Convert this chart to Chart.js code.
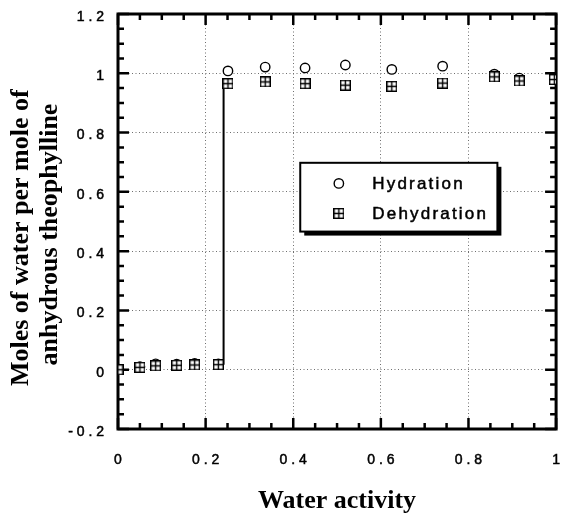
<!doctype html>
<html>
<head>
<meta charset="utf-8">
<title>Theophylline water sorption</title>
<script src="https://cdn.jsdelivr.net/npm/chart.js@4.4.1/dist/chart.umd.min.js"></script>
<style>
  html, body { margin: 0; padding: 0; background: #fff; }
  canvas { display: block; }
</style>
</head>
<body>
<canvas id="js-chart-sorption" width="563" height="522"></canvas>
<script>
// Water activity, shared by both series
const waterActivity = [0, 0.05, 0.086, 0.134, 0.175, 0.229, 0.251, 0.336, 0.427, 0.519, 0.625, 0.741, 0.859, 0.916, 0.996];

// Moles of water per mole of anhydrous theophylline
const hydration   = [0.003, 0.01, 0.02, 0.019, 0.021, 0.02, 1.008, 1.021, 1.018, 1.028, 1.013, 1.024, 0.997, 0.984, 0.98];
const dehydration = [0, 0.008, 0.013, 0.015, 0.016, 0.017, 0.965, 0.971, 0.965, 0.96, 0.956, 0.967, 0.988, 0.974, 0.979];

// near vertical step between the two plateaus
const stepX = [0.24, 0.241];
const stepY = [0.02, 0.955];

// Tick labels
const xTicks = [0, 0.2, 0.4, 0.6, 0.8, 1];
const yTicks = [-0.2, 0, 0.2, 0.4, 0.6, 0.8, 1, 1.2];

const SANS = '"Liberation Sans", Arial, Helvetica, sans-serif';
const SERIF = '"Liberation Serif", "Times New Roman", Times, serif';

const toPoints = (xs, ys) => xs.map((x, i) => ({ x: x, y: ys[i] }));
const spaced = v => String(v).split('').join(' ');

// square with a cross inside, used as point style for dehydration
function crossSquare(size) {
  const c = document.createElement('canvas');
  c.width = c.height = size;
  const g = c.getContext('2d');
  const e = size - 0.5, m = size / 2;
  g.fillStyle = '#fff';
  g.fillRect(0, 0, size, size);
  g.strokeStyle = '#000';
  g.lineWidth = 1.4;
  g.strokeRect(0.7, 0.7, size - 1.4, size - 1.4);
  g.beginPath();
  g.moveTo(m, 0.5); g.lineTo(m, e);
  g.moveTo(0.5, m); g.lineTo(e, m);
  g.stroke();
  return c;
}
const squareStyle = crossSquare(11);

/*
 * Frame with inward ticks on all four sides
 */
const frameTicks = {
  id: 'frameTicks',
  beforeDatasetsDraw(chart, args, opts) {
    const { ctx, chartArea: a, scales: { x, y } } = chart;
    ctx.save();
    ctx.strokeStyle = '#000';
    ctx.lineWidth = opts.tickWidth;
    ctx.beginPath();
    const nx = Math.round((x.max - x.min) / opts.step);
    for (let i = 0; i <= nx; i++) {
      const px = x.getPixelForValue(x.min + i * opts.step);
      const len = i % 4 === 0 ? opts.major : opts.minor;
      ctx.moveTo(px, a.bottom); ctx.lineTo(px, a.bottom - len);
      ctx.moveTo(px, a.top); ctx.lineTo(px, a.top + len);
    }
    const ny = Math.round((y.max - y.min) / opts.step);
    for (let i = 0; i <= ny; i++) {
      const py = y.getPixelForValue(y.min + i * opts.step);
      const len = i % 4 === 0 ? opts.major : opts.minor;
      ctx.moveTo(a.left, py); ctx.lineTo(a.left + len, py);
      ctx.moveTo(a.right, py); ctx.lineTo(a.right - len, py);
    }
    ctx.stroke();
    ctx.lineWidth = opts.borderWidth;
    ctx.strokeRect(a.left, a.top, a.right - a.left, a.bottom - a.top);
    ctx.restore();
  }
};

/*
 * Boxed legend with drop shadow, placed in data coordinates
 */
const boxLegend = {
  id: 'boxLegend',
  afterDatasetsDraw(chart, args, opts) {
    const { ctx, scales: { x, y } } = chart;
    const l = x.getPixelForValue(opts.x0), r = x.getPixelForValue(opts.x1);
    const t = y.getPixelForValue(opts.y0), b = y.getPixelForValue(opts.y1);
    ctx.save();
    ctx.fillStyle = '#000';
    ctx.fillRect(l + opts.shadow, t + opts.shadow, r - l, b - t);
    ctx.fillStyle = '#fff';
    ctx.fillRect(l, t, r - l, b - t);
    ctx.lineWidth = 2;
    ctx.strokeStyle = '#000';
    ctx.strokeRect(l, t, r - l, b - t);

    const items = chart.data.datasets.filter(d => d.inLegend);
    items.sort((p, q) => p.legendRow - q.legendRow);
    items.forEach((ds, i) => {
      const cy = t + opts.firstRow + i * opts.rowGap;
      ctx.fillStyle = '#fff';
      ctx.strokeStyle = '#000';
      ctx.lineWidth = ds.pointBorderWidth || 1;
      Chart.helpers.drawPoint(ctx, {
        pointStyle: ds.pointStyle, radius: ds.pointRadius, borderWidth: ds.pointBorderWidth || 1, rotation: 0
      }, l + opts.markerX, cy);
      ctx.fillStyle = '#000';
      ctx.font = opts.font;
      ctx.letterSpacing = opts.letterSpacing;
      ctx.textBaseline = 'middle';
      ctx.textAlign = 'left';
      ctx.lineWidth = 0.5;
      ctx.strokeText(ds.label, l + opts.textX, cy + 1);
      ctx.fillText(ds.label, l + opts.textX, cy + 1);
    });
    ctx.restore();
  }
};

function initChart() {
  const con = document.getElementById('js-chart-sorption');

  new Chart(con, {
    type: 'scatter',
    data: {
      datasets: [
        {
          label: 'Dehydration', inLegend: true, legendRow: 1, order: 0,
          data: toPoints(waterActivity, dehydration),
          pointStyle: squareStyle, pointRadius: 5.5, pointBorderWidth: 1.4,
          backgroundColor: '#fff', borderColor: '#000'
        },
        {
          label: 'Hydration', inLegend: true, legendRow: 0, order: 1,
          data: toPoints(waterActivity, hydration),
          pointStyle: 'circle', pointRadius: 4.7, pointBorderWidth: 1.4,
          backgroundColor: '#fff', borderColor: '#000'
        },
        {
          label: 'step', order: 2,
          data: toPoints(stepX, stepY),
          showLine: true, pointRadius: 0, borderColor: '#000', borderWidth: 2
        }
      ]
    },
    options: {
      responsive: false,
      animation: false,
      layout: { padding: { top: 14, right: 6, bottom: 0, left: 0 } },
      scales: {
        x: {
          type: 'linear', min: 0, max: 1,
          afterBuildTicks: s => { s.ticks = xTicks.map(v => ({ value: v })); },
          afterFit: s => { s.height = 93; s.paddingLeft = 0; s.paddingRight = 0; },
          grid: {
            color: c => (c.tick && c.tick.value > 0 && c.tick.value < 1) ? '#6e6e6e' : 'transparent',
            lineWidth: 1, drawTicks: false
          },
          border: { display: false, dash: [1, 2.5] },
          ticks: {
            padding: 23, color: '#000', maxRotation: 0, autoSkip: false,
            textStrokeColor: '#000', textStrokeWidth: 0.5,
            font: { family: SANS, size: 14 },
            callback: v => spaced(v)
          },
          title: {
            display: true, text: 'Water activity', color: '#000',
            font: { family: SERIF, size: 26, weight: 'bold', lineHeight: 1.12 },
            padding: { top: 0, bottom: 6 }
          }
        },
        y: {
          type: 'linear', min: -0.2, max: 1.2,
          afterBuildTicks: s => { s.ticks = yTicks.map(v => ({ value: v })); },
          afterFit: s => { s.width = 118; s.paddingTop = 0; s.paddingBottom = 0; },
          grid: {
            color: c => (c.tick && c.tick.value > -0.2 && c.tick.value < 1.2) ? '#6e6e6e' : 'transparent',
            lineWidth: 1, drawTicks: false
          },
          border: { display: false, dash: [1, 2.5] },
          ticks: {
            padding: 14, color: '#000', labelOffset: 3,
            textStrokeColor: '#000', textStrokeWidth: 0.5,
            font: { family: SANS, size: 14 },
            callback: v => spaced(v)
          },
          title: {
            display: true, color: '#000',
            text: ['Moles of water per mole of\u00a0\u00a0\u00a0\u00a0\u00a0', 'anhydrous theophylline\u00a0\u00a0\u00a0\u00a0'],
            font: { family: SERIF, size: 26, weight: 'bold', lineHeight: 1.12 },
            padding: { top: 6.5, bottom: 0 }
          }
        }
      },
      plugins: {
        legend: { display: false },
        tooltip: { enabled: false },
        frameTicks: { step: 0.05, minor: 6, major: 11, tickWidth: 2.5, borderWidth: 3 },
        boxLegend: {
          x0: 0.416, x1: 0.866, y0: 0.698, y1: 0.466, shadow: 4,
          firstRow: 20.6, rowGap: 30, markerX: 38.6, textX: 72,
          font: '17px ' + SANS, letterSpacing: '2.2px'
        }
      }
    },
    plugins: [frameTicks, boxLegend]
  });
}

initChart();
</script>
</body>
</html>
